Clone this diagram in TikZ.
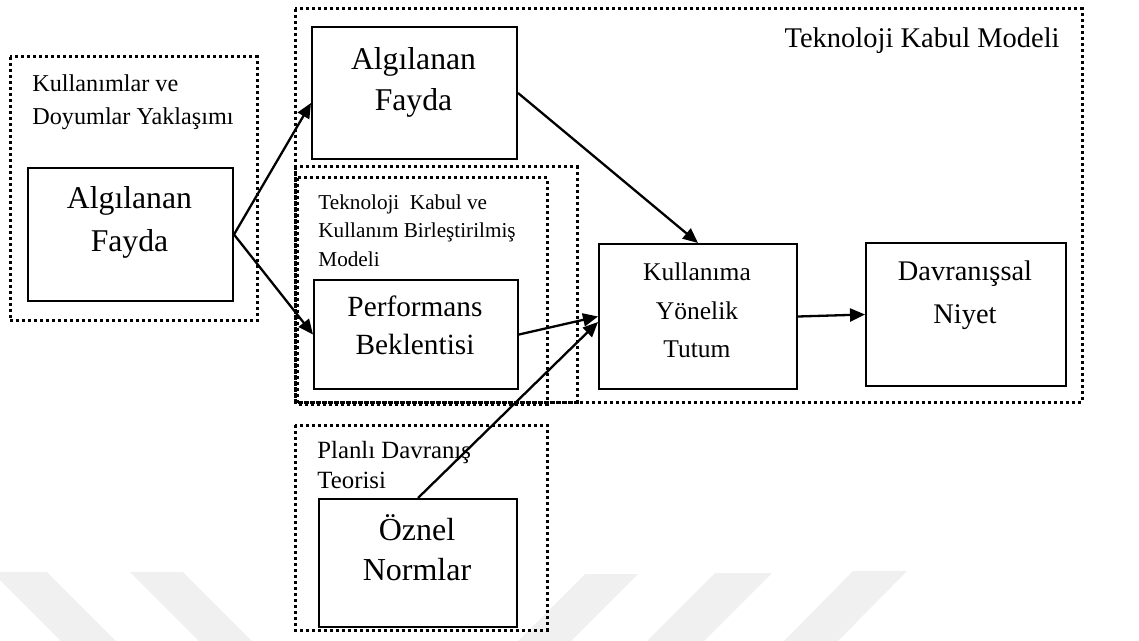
\documentclass[tikz,border=0pt]{standalone}
\usepackage{fontspec}
\setmainfont{Liberation Serif}
\usetikzlibrary{arrows.meta,calc}

\begin{document}
\begin{tikzpicture}[x=0.5pt,y=-0.5pt,
  box/.style={draw, line width=1pt, rectangle, inner sep=0pt, anchor=north west},
  frame/.style={draw, line width=1.5pt, dash pattern=on 1.5pt off 1.5pt},
  lbl/.style={inner sep=0pt, align=center, anchor=north},
  note/.style={inner sep=0pt, align=left, anchor=north west},
  link/.style={line width=1.15pt, -{Triangle[length=7.5pt,width=6.5pt]}},
  stripe/.style={fill=black!6, draw=none}
]
\useasboundingbox (0,0) rectangle (1139,641);

% faint diagonal bands along the lower edge
\fill[stripe] (-8,572) -- (47,572) -- (116,641) -- (61,641) -- cycle;
\fill[stripe] (130,572) -- (183,572) -- (252,641) -- (199,641) -- cycle;
\fill[stripe] (585,574) -- (638,574) -- (571,641) -- (518,641) -- cycle;
\fill[stripe] (715,573) -- (772,573) -- (704,641) -- (647,641) -- cycle;
\fill[stripe] (853,571) -- (907,571) -- (838,641) -- (784,641) -- cycle;

% dotted frames of the theories
\draw[frame] (10,57) rectangle (257,321);
\draw[frame] (295,9) rectangle (1082,402);
\draw[frame] (295,167) rectangle (577,402);
\draw[frame] (297,178) rectangle (547,404);
\draw[frame] (295,425) rectangle (547,630);

% frame captions
\node[note, font=\fontsize{12.1}{16.5}\selectfont] (capud) at (32,74) {Kullanımlar ve\\Doyumlar Yaklaşımı};
\node[inner sep=0pt, anchor=base east, font=\fontsize{14.25}{18}\selectfont] (captkm) at (1060,48) {Teknoloji Kabul Modeli};
\node[note, font=\fontsize{10.6}{14.3}\selectfont] (capbm) at (318,194) {Teknoloji\ \ Kabul ve\\Kullanım Birleştirilmiş\\Modeli};
\node[note, font=\fontsize{12.4}{15}\selectfont] (cappdt) at (317,441) {Planlı Davranış\\Teorisi};

% construct boxes
\node[box, minimum width=102.5pt, minimum height=66.5pt] (lfa) at (27,167) {};
\node[box, minimum width=102.5pt, minimum height=66pt] (tfa) at (311,26) {};
\node[box, minimum width=102pt, minimum height=54.5pt] (perf) at (313,279) {};
\node[box, minimum width=99pt, minimum height=72.5pt] (kyt) at (598,243) {};
\node[box, minimum width=100pt, minimum height=71.5pt] (dn) at (865,242) {};
\node[box, minimum width=99pt, minimum height=64pt] (on) at (318,498) {};

% box texts
\node[lbl, font=\fontsize{15.85}{21.5}\selectfont] (tlfa) at (129.5,186.5) {Algılanan\\Fayda};
\node[lbl, font=\fontsize{15.85}{20.5}\selectfont] (ttfa) at (413.5,47) {Algılanan\\Fayda};
\node[lbl, font=\fontsize{14.65}{19}\selectfont] (tperf) at (415,295) {Performans\\Beklentisi};
\node[lbl, font=\fontsize{12.75}{19.25}\selectfont] (tkyt) at (697,262.6) {Kullanıma\\Yönelik\\Tutum};
\node[lbl, font=\fontsize{14.2}{21.5}\selectfont] (tdn) at (965,260.6) {Davranışsal\\Niyet};
\node[lbl, font=\fontsize{16}{20}\selectfont] (ton) at (417,514) {Öznel\\Normlar};

% relations
\draw[link] (lfa.east) -- ([yshift=-5pt]tfa.west);
\draw[link] (lfa.east) -- (perf.west);
\draw[link] (tfa.east) -- (kyt.north);
\draw[link] (perf.east) -- (kyt.west);
\draw[link] (on.north) -- ([yshift=-2.75pt]kyt.west);
\draw[link] (kyt.east) -- (dn.west);
\end{tikzpicture}
\end{document}
